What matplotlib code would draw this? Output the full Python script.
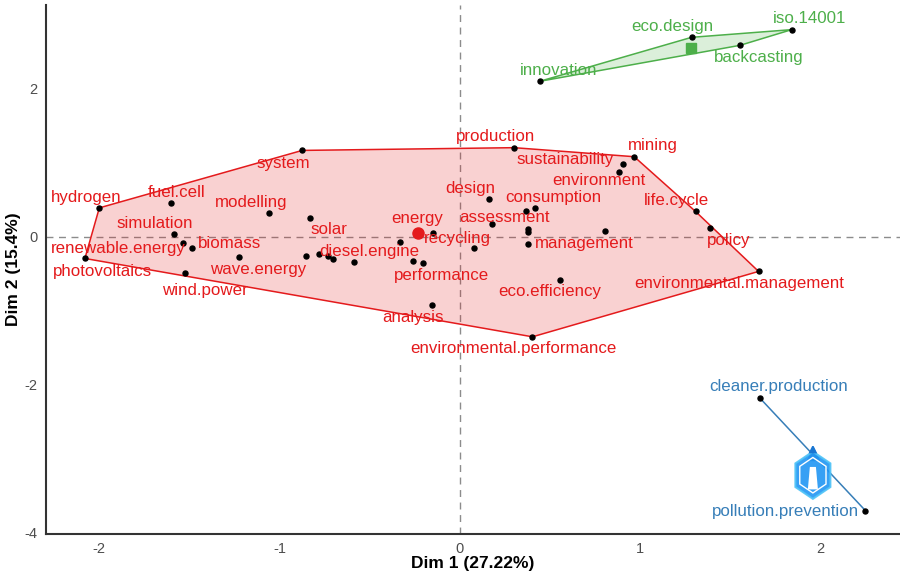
import numpy as np
import matplotlib
matplotlib.use("Agg")
import matplotlib.pyplot as plt
from matplotlib.patches import Polygon, RegularPolygon

plt.rcParams["font.family"] = ["Liberation Sans", "DejaVu Sans"]
plt.rcParams["axes.unicode_minus"] = False

# --- data ---
red_words = ["hydrogen", "fuel.cell", "system", "modelling", "solar", "simulation",
             "renewable.energy", "biomass", "photovoltaics", "wind.power", "wave.energy",
             "", "", "", "", "diesel.engine", "", "energy", "", "performance", "analysis",
             "recycling", "production", "mining", "sustainability", "environment", "design",
             "assessment", "consumption", "", "", "", "", "management", "life.cycle", "policy",
             "environmental.management", "eco.efficiency", "environmental.performance"]
red_x = [-2.00, -1.60, -0.874, -1.059, -0.830, -1.585, -1.533, -1.487, -2.08, -1.524, -1.222,
         -0.852, -0.778, -0.730, -0.704, -0.589, -0.330, -0.148, -0.259, -0.204, -0.156,
         0.081, 0.302, 0.969, 0.907, 0.883, 0.163, 0.37, 0.42, 0.181, 0.38, 0.38, 0.809,
         0.38, 1.309, 1.391, 1.659, 0.559, 0.404]
red_y = [0.39, 0.455, 1.166, 0.315, 0.248, 0.036, -0.09, -0.158, -0.293, -0.49, -0.275,
         -0.266, -0.23, -0.257, -0.306, -0.347, -0.072, 0.05, -0.329, -0.36, -0.923,
         -0.153, 1.203, 1.081, 0.982, 0.878, 0.504, 0.342, 0.387, 0.176, 0.104, 0.068, 0.081,
         -0.104, 0.342, 0.122, -0.468, -0.581, -1.351]

green_words = ["innovation", "eco.design", "iso.14001", "backcasting"]
green_x = [0.444, 1.287, 1.843, 1.556]
green_y = [2.099, 2.693, 2.797, 2.585]

blue_words = ["cleaner.production", "pollution.prevention"]
blue_x = [1.667, 2.252]
blue_y = [-2.18, -3.698]

x_ticks = [-2, -1, 0, 1, 2]
y_ticks = [-4, -2, 0, 2]
x_title = "Dim 1 (27.22%)"
y_title = "Dim 2 (15.4%)"

# label placement (pixel offsets from the point, like ggrepel output)
label_off = {
    "hydrogen": (-13, 10.6), "fuel.cell": (5, 10.6), "system": (-18.7, -12.6),
    "modelling": (-18, 11), "simulation": (-19, 11), "renewable.energy": (-65.5, -5),
    "biomass": (38, 4.7), "photovoltaics": (18, -13), "wind.power": (20, -17.7),
    "wave.energy": (18.7, -12.7), "solar": (18.8, -11.3), "diesel.engine": (16, 10.7),
    "energy": (-15.5, 15), "performance": (18.4, -11.6), "analysis": (-19, -12),
    "recycling": (-16.4, 9.6), "production": (-18.8, 11.3), "sustainability": (-58, 5),
    "mining": (18.7, 11), "environment": (-20, -8.3), "design": (-18.8, 10.7),
    "consumption": (18.3, 10.6), "assessment": (-22, -6), "management": (56, 1.4),
    "life.cycle": (-19, 10.7), "policy": (18.7, -12.7),
    "environmental.management": (-19.2, -12.3), "eco.efficiency": (-10.5, -11.7),
    "environmental.performance": (-18.9, -11.7),
    "innovation": (18.7, 10.7), "eco.design": (-19, 11), "iso.14001": (17.8, 11),
    "backcasting": (19, -12.6),
    "cleaner.production": (18.8, 11.7), "pollution.prevention": (-80.3, -1),
}


def hull(px, py):
    # monotone chain convex hull
    pts = sorted(set(zip(px, py)))
    def cross(o, a, b):
        return (a[0] - o[0]) * (b[1] - o[1]) - (a[1] - o[1]) * (b[0] - o[0])
    lower, upper = [], []
    for p in pts:
        while len(lower) >= 2 and cross(lower[-2], lower[-1], p) <= 0:
            lower.pop()
        lower.append(p)
    for p in reversed(pts):
        while len(upper) >= 2 and cross(upper[-2], upper[-1], p) <= 0:
            upper.pop()
        upper.append(p)
    return np.array(lower[:-1] + upper[:-1])


fig = plt.figure(figsize=(9, 5.78), dpi=100)
ax = fig.add_axes([0.0511, 0.0761, 0.9489, 0.9153])
ax.set_xlim(-2.296, 2.444)
ax.set_ylim(-4.014, 3.13)

ax.axhline(0, color="#8c8c8c", lw=1.0, ls=(0, (5, 4)), zorder=1)
ax.axvline(0, color="#8c8c8c", lw=1.0, ls=(0, (5, 4)), zorder=1)

groups = [
    (red_words, red_x, red_y, "#E41A1C", "o", 8),
    (green_words, green_x, green_y, "#4DAF4A", "s", 7),
    (blue_words, blue_x, blue_y, "#377EB8", "^", 8),
]

for words, xs, ys, col, mk, ms in groups:
    h = hull(xs, ys)
    if len(h) >= 3:
        ax.add_patch(Polygon(h, closed=True, facecolor=col, alpha=0.2, edgecolor="none", zorder=2))
        ax.add_patch(Polygon(h, closed=True, facecolor="none", edgecolor=col, lw=1.1, zorder=3))
    else:
        ax.plot(xs, ys, color=col, lw=1.1, zorder=3)
    ax.plot(xs, ys, "o", color="black", ms=3.6, zorder=4)
    ax.plot(np.mean(xs), np.mean(ys), mk, color=col, ms=ms, zorder=5)
    for w, x, y in zip(words, xs, ys):
        if not w:
            continue
        dx, dy = label_off.get(w, (0, 12))
        ax.annotate(w, (x, y), xytext=(dx, dy), textcoords="offset pixels",
                    ha="center", va="center", color=col, fontsize=12.2, zorder=6)

# watermark logo (simple hexagon)
lg = ax.inset_axes([0.872, 0.062, 0.052, 0.105])
lg.set_xlim(-1.1, 1.1)
lg.set_ylim(-1.1, 1.25)
lg.axis("off")
lg.add_patch(RegularPolygon((0, 0), 6, radius=1.0, facecolor="#2196F3",
                            edgecolor="#4FC3F7", lw=1.5, alpha=0.9))
lg.add_patch(RegularPolygon((0, 0), 6, radius=0.75, facecolor="none",
                            edgecolor="white", lw=1.0))
lg.add_patch(RegularPolygon((0, 1.05), 3, radius=0.25, facecolor="#1976D2", edgecolor="none"))
lg.add_patch(Polygon([[-0.25, -0.6], [0.25, -0.6], [0.15, 0.35], [-0.15, 0.35]],
                     facecolor="white", edgecolor="none"))

for s in ["top", "right"]:
    ax.spines[s].set_visible(False)
for s in ["left", "bottom"]:
    ax.spines[s].set_color("#333333")
    ax.spines[s].set_linewidth(1.5)

ax.set_xticks(x_ticks)
ax.set_yticks(y_ticks)
ax.tick_params(axis="x", length=0, labelsize=10.5, labelcolor="#4D4D4D", pad=6)
ax.tick_params(axis="y", length=0, labelsize=10.5, labelcolor="#4D4D4D", pad=6)
ax.set_xlabel(x_title, fontsize=12.5, fontweight="bold")
ax.set_ylabel(y_title, fontsize=12.5, fontweight="bold")
ax.xaxis.set_label_coords(0.5, -0.041)
ax.yaxis.set_label_coords(-0.029, 0.5)

fig.savefig("out.png", dpi=100)
